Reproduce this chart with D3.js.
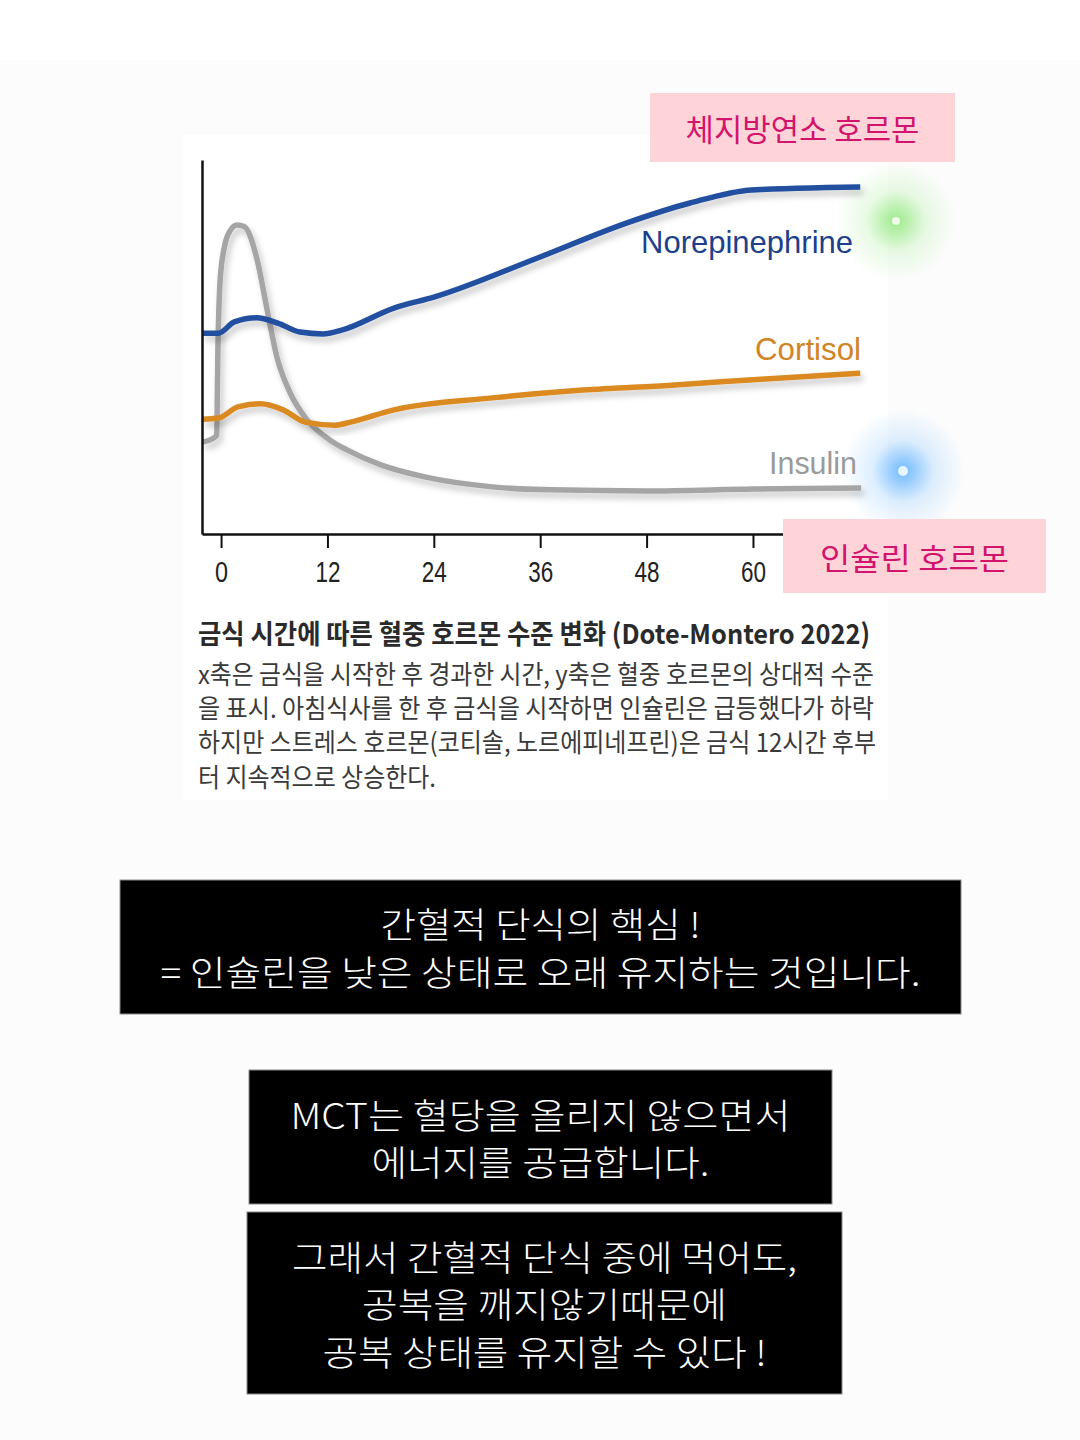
<!DOCTYPE html>
<html>
<head>
<meta charset="utf-8">
<script src="https://cdn.jsdelivr.net/npm/d3@7"></script>
<style>
  html, body { margin: 0; padding: 0; background: #fcfcfc; }
  svg { display: block; }
</style>
</head>
<body>
<script>
// hours after fasting start (x) and relative hormone level 0-100 (y)
var norepinephrine = [[-2.1,53.7],[-0.3,53.7],[1.5,56.7],[4.0,57.8],[6.4,56.4],[8.9,54.0],[11.5,53.5],[13.6,54.5],[19.5,60.4],[24.1,63.4],[35.7,73.8],[45.8,83.2],[52.9,88.5],[59.9,92.0],[72.1,92.8]];
var cortisol = [[-2.1,30.7],[-0.3,31.0],[1.9,34.0],[4.4,34.8],[7.0,33.2],[9.5,29.9],[12.8,29.1],[14.6,29.9],[19.5,33.2],[30.6,36.4],[40.8,38.5],[50.8,39.8],[60.9,41.4],[72.1,43.0]];
var insulin = [[-2.1,24.6],[-0.8,25.7],[-0.5,26.5],[-0.35,50],[-0.1,68],[0.4,77],[1.0,81],[1.8,82.6],[2.6,82.2],[4.07,73.3],[5.2,59.9],[6.3,47.3],[7.8,37.7],[9.7,30.5],[12.3,25.1],[14.2,22.5],[18.1,18.4],[23.1,15.2],[30.6,12.6],[37.2,11.8],[48,11.5],[60,12.0],[72.2,12.3]];

var hourTicks = [0, 12, 24, 36, 48, 60];

var seriesNames = ["Norepinephrine", "Cortisol", "Insulin"];
var seriesColors = ["#214f9f", "#db8a22", "#a5a5a5"];
var labelColors = ["#1d3f8c", "#d08424", "#9a9a9a"];

var captionTitle = "금식 시간에 따른 혈중 호르몬 수준 변화 (Dote-Montero 2022)";
var captionLines = [
  "x축은 금식을 시작한 후 경과한 시간, y축은 혈중 호르몬의 상대적 수준",
  "을 표시. 아침식사를 한 후 금식을 시작하면 인슐린은 급등했다가 하락",
  "하지만 스트레스 호르몬(코티솔, 노르에피네프린)은 금식 12시간 후부",
  "터 지속적으로 상승한다."
];
var tagFat = "체지방연소 호르몬";
var tagInsulin = "인슐린 호르몬";
var box1Lines = ["간혈적 단식의 핵심 !", "= 인슐린을 낮은 상태로 오래 유지하는 것입니다."];
var box2Lines = ["MCT는 혈당을 올리지 않으면서", "에너지를 공급합니다."];
var box3Lines = ["그래서 간혈적 단식 중에 먹어도,", "공복을 깨지않기때문에", "공복 상태를 유지할 수 있다 !"];

var W = 1080, H = 1440;
var narrow = "'Liberation Sans Narrow', 'Liberation Sans', Arial, sans-serif";
var kr = "'Noto Sans CJK KR', 'Noto Sans', sans-serif";

var svg = d3.select("body").append("svg")
    .attr("width", W)
    .attr("height", H);

var defs = svg.append("defs");

// soft shadow under the curves
var shadow = defs.append("filter").attr("id", "shadow")
    .attr("x", "-10%").attr("y", "-10%").attr("width", "120%").attr("height", "130%");
shadow.append("feDropShadow")
    .attr("dx", 3).attr("dy", 5).attr("stdDeviation", 3)
    .attr("flood-color", "#000").attr("flood-opacity", 0.22);

// glow gradients
function glow(id, rgb) {
  var g = defs.append("radialGradient").attr("id", id);
  g.append("stop").attr("offset", "0%").attr("stop-color", "rgb(" + rgb + ")").attr("stop-opacity", 0.85);
  g.append("stop").attr("offset", "20%").attr("stop-color", "rgb(" + rgb + ")").attr("stop-opacity", 0.6);
  g.append("stop").attr("offset", "50%").attr("stop-color", "rgb(" + rgb + ")").attr("stop-opacity", 0.2);
  g.append("stop").attr("offset", "100%").attr("stop-color", "rgb(" + rgb + ")").attr("stop-opacity", 0);
}
glow("glowGreen", "140,232,120");
glow("glowBlue", "90,175,255");

// page backgrounds
svg.append("rect").attr("width", W).attr("height", 60).attr("fill", "#ffffff");
svg.append("rect").attr("x", 183).attr("y", 135).attr("width", 705).attr("height", 665).attr("fill", "#ffffff");

// scales
var x = d3.scaleLinear().domain([-2.15, 63.5]).range([202, 784]);
var y = d3.scaleLinear().domain([0, 100]).range([534, 160]);

var line = d3.line()
    .x(function(d) { return x(d[0]); })
    .y(function(d) { return y(d[1]); })
    .curve(d3.curveMonotoneX);

// glows
svg.append("circle").attr("cx", 896).attr("cy", 221).attr("r", 60).attr("fill", "url(#glowGreen)");
svg.append("circle").attr("cx", 896).attr("cy", 221).attr("r", 4).attr("fill", "#eefde8");
svg.append("circle").attr("cx", 903).attr("cy", 471).attr("r", 62).attr("fill", "url(#glowBlue)");
svg.append("circle").attr("cx", 903).attr("cy", 471).attr("r", 5).attr("fill", "#e6f5ff");

// curves (insulin drawn first, the others over it)
var data = [norepinephrine, cortisol, insulin];
[2, 1, 0].forEach(function(i) {
  svg.append("path")
      .datum(data[i])
      .attr("d", line)
      .attr("fill", "none")
      .attr("stroke", seriesColors[i])
      .attr("stroke-width", 5.5)
      .attr("stroke-linejoin", "round")
      .attr("stroke-linecap", "butt")
      .attr("filter", "url(#shadow)");
});

// axes
var xAxis = svg.append("g")
    .attr("transform", "translate(0,534)")
    .call(d3.axisBottom(x).tickValues(hourTicks).tickSize(14).tickSizeOuter(0).tickPadding(13));
xAxis.select(".domain").attr("stroke", "#111").attr("stroke-width", 2.5);
xAxis.selectAll(".tick line").attr("stroke", "#111").attr("stroke-width", 2);
xAxis.selectAll(".tick text")
    .attr("fill", "#222")
    .attr("textLength", function(d) { return String(d).length > 1 ? 25 : 13; })
    .attr("lengthAdjust", "spacingAndGlyphs")
    .style("font-family", narrow)
    .style("font-size", "29px");

var yAxis = svg.append("g")
    .attr("transform", "translate(202,0)")
    .call(d3.axisLeft(y).tickValues([]).tickSizeOuter(0));
yAxis.select(".domain").attr("stroke", "#111").attr("stroke-width", 2.5);

// series labels
var labelPos = [[853, 242, 212], [861, 349, 106], [857, 463, 88]];
seriesNames.forEach(function(name, i) {
  svg.append("text")
      .attr("x", labelPos[i][0] - labelPos[i][2])
      .attr("y", labelPos[i][1])
      .attr("dominant-baseline", "central")
      .attr("textLength", labelPos[i][2])
      .attr("lengthAdjust", "spacingAndGlyphs")
      .attr("fill", labelColors[i])
      .style("font-family", narrow)
      .style("font-size", "32px")
      .text(name);
});

// pink tags
function tag(x0, y0, w, h, txt, tw) {
  svg.append("rect").attr("x", x0).attr("y", y0).attr("width", w).attr("height", h).attr("fill", "#ffd4d9");
  svg.append("text")
      .attr("x", x0 + w / 2).attr("y", y0 + h / 2)
      .attr("text-anchor", "middle").attr("dominant-baseline", "central")
      .attr("textLength", tw).attr("lengthAdjust", "spacingAndGlyphs")
      .attr("fill", "#d3146d")
      .style("font-family", kr).style("font-size", "31px")
      .text(txt);
}
tag(650, 93, 305, 69, tagFat, 234);
tag(783, 519, 263, 74, tagInsulin, 189);

// caption
svg.append("text")
    .attr("x", 198).attr("y", 632)
    .attr("dominant-baseline", "central")
    .attr("textLength", 672).attr("lengthAdjust", "spacingAndGlyphs")
    .attr("fill", "#2a2a2a")
    .style("font-family", kr).style("font-size", "27px").style("font-weight", 700)
    .text(captionTitle);

var capY = [672, 706, 740, 775];
var capW = [676, 676, 678, 238];
captionLines.forEach(function(t, i) {
  svg.append("text")
      .attr("x", 198).attr("y", capY[i])
      .attr("dominant-baseline", "central")
      .attr("textLength", capW[i]).attr("lengthAdjust", "spacingAndGlyphs")
      .attr("fill", "#3a3a3a")
      .style("font-family", kr).style("font-size", "26px")
      .text(t);
});

// black message boxes
function box(x0, y0, w, h, lines, ys, widths) {
  svg.append("rect").attr("x", x0).attr("y", y0).attr("width", w).attr("height", h)
      .attr("fill", "#000").attr("stroke", "#8a8a8a").attr("stroke-width", 1);
  lines.forEach(function(t, i) {
    svg.append("text")
        .attr("x", x0 + w / 2).attr("y", ys[i])
        .attr("text-anchor", "middle").attr("dominant-baseline", "central")
        .attr("textLength", widths[i]).attr("lengthAdjust", "spacingAndGlyphs")
        .attr("fill", "#fff")
        .style("font-family", kr).style("font-size", "35px").style("font-weight", 300)
        .text(t);
  });
}
box(120, 880, 841, 134, box1Lines, [922, 970], [320, 760]);
box(249, 1070, 583, 134, box2Lines, [1113, 1160], [500, 338]);
box(247, 1212, 595, 182, box3Lines, [1255, 1302, 1350], [505, 365, 444]);
</script>
</body>
</html>
